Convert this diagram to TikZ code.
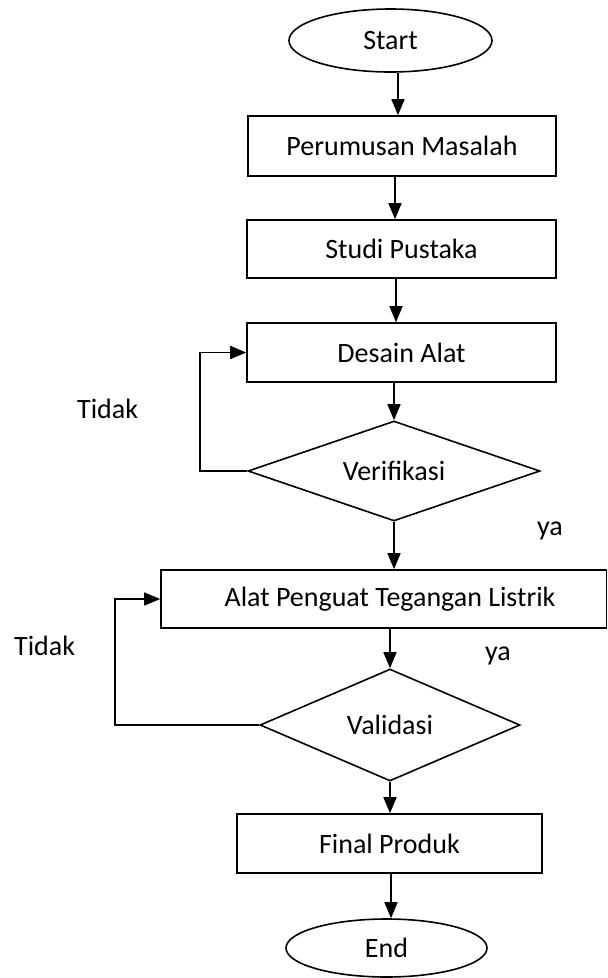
\documentclass[tikz,border=0pt]{standalone}
\usepackage{fontspec}
\setmainfont{Carlito}
\usetikzlibrary{shapes.geometric,arrows.meta}
\begin{document}
\begin{tikzpicture}[x=1pt,y=-1pt,
  every node/.style={font=\fontsize{28}{32}\selectfont, inner sep=0pt},
  box/.style={draw, line width=1.6pt, rectangle},
  term/.style={draw, line width=1.6pt, ellipse},
  decision/.style={draw, line width=1.6pt, diamond},
  arr/.style={line width=1.6pt, -{Triangle[length=16pt,width=13pt]}},
  lbl/.style={anchor=base west}
]
\useasboundingbox (0,0) rectangle (608,978);
\fill[white] (0,0) rectangle (608,978);

\node[term, minimum width=203pt, minimum height=63pt] (start) at (390.5,40.5) {Start};
\node[box, minimum width=308pt, minimum height=60pt] (per) at (402,146) {Perumusan Masalah};
\node[box, minimum width=309pt, minimum height=58pt] (stu) at (401.5,249) {Studi Pustaka};
\node[box, minimum width=309pt, minimum height=59pt] (des) at (401.5,352.5) {Desain Alat};
\node[decision, minimum width=292pt, minimum height=100pt] (ver) at (394,471) {};
\node (vertxt) at (ver) {Verifikasi};
\node[box, minimum width=445.5pt, minimum height=58pt] (alat) at (383.75,599) {};
\node (alattxt) at (390,599) {Alat Penguat Tegangan Listrik};
\node[decision, minimum width=260pt, minimum height=112pt] (val) at (390,725) {};
\node (valtxt) at (val) {Validasi};
\node[box, minimum width=305pt, minimum height=59pt] (fin) at (389.5,843.5) {Final Produk};
\node[term, minimum width=201pt, minimum height=58pt] (end) at (386.5,948) {End};

\node[lbl] (t1) at (77,418) {Tidak};
\node[lbl] (y1) at (537,535) {ya};
\node[lbl] (t2) at (14,655) {Tidak};
\node[lbl] (y2) at (485,660) {ya};

\coordinate (a1) at (398,0);
\coordinate (a2) at (395,0);
\coordinate (a3) at (396,0);
\coordinate (a8) at (391,0);
\coordinate (l1) at (200,471);
\coordinate (l2) at (115,725);

\draw[arr] (start.south -| a1) -- (per.north -| a1);
\draw[arr] (per.south -| a2) -- (stu.north -| a2);
\draw[arr] (stu.south -| a3) -- (des.north -| a3);
\draw[arr] (des.south -| ver.north) -- (ver.north);
\draw[arr] (ver.south) -- (ver.south |- alat.north);
\draw[arr] (alat.south -| val.north) -- (val.north);
\draw[arr] (val.south) -- (val.south |- fin.north);
\draw[arr] (fin.south -| a8) -- (end.north -| a8);

\draw[arr] (ver.west) -- (l1) |- (des.west);
\draw[arr] (val.west) -- (l2) |- (alat.west);
\end{tikzpicture}
\end{document}
